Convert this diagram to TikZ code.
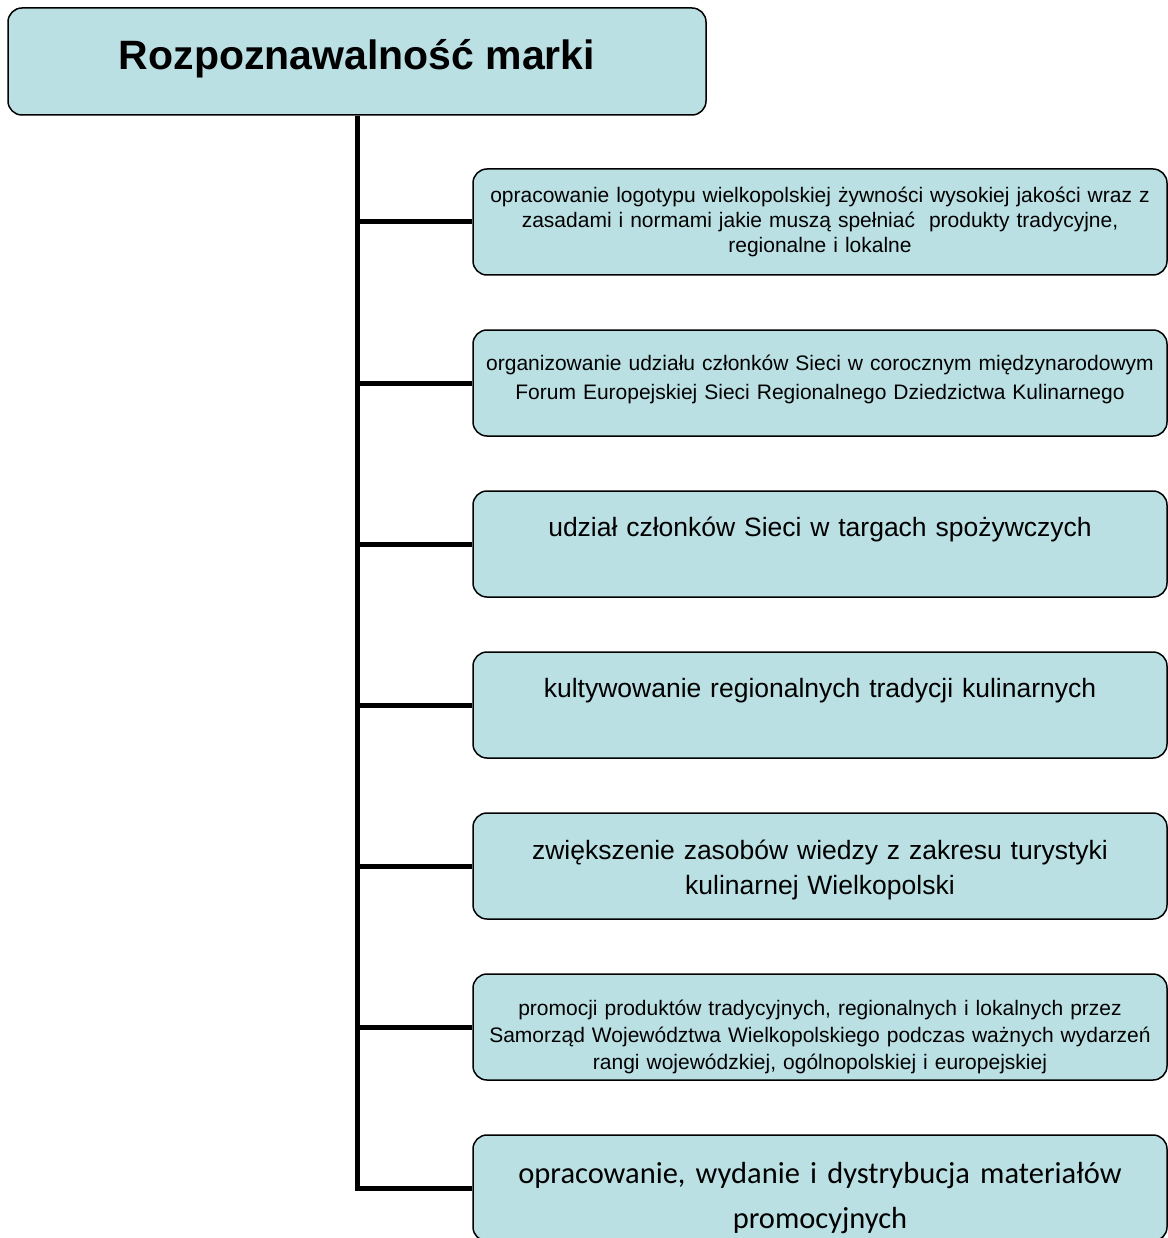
\documentclass[tikz,border=0pt]{standalone}
\usepackage{fontspec}
\setmainfont{Liberation Sans}
\newfontfamily\calibrifont{Carlito}
\usetikzlibrary{positioning}
\definecolor{boxfill}{RGB}{186,224,228}

\begin{document}
\begin{tikzpicture}[
    x=1pt, y=-1pt,
    % Node styles
    headbox/.style={
        rectangle, rounded corners=14pt, draw=black, line width=1.5pt,
        fill=boxfill, minimum width=698pt, minimum height=107pt,
        font=\fontsize{41}{48}\selectfont\bfseries, text depth=14pt
    },
    itembox/.style={
        rectangle, rounded corners=14pt, draw=black, line width=1.5pt,
        fill=boxfill, minimum width=694pt, minimum height=106pt,
        text width=684pt, inner sep=2pt, align=center
    },
    smalltext/.style={font=\fontsize{21}{#1}\selectfont},
    smalltext/.default=27pt,
    largetext/.style={font=\fontsize{26.5}{35}\selectfont},
    calibritext/.style={font=\calibrifont\fontsize{30.5}{45}\selectfont},
    trunk/.style={line width=5pt, black},
    node distance=53.5pt
]

\useasboundingbox (0,0) rectangle (1167,1238);

% ============================================================
% Header and the seven activities
% ============================================================

\node[headbox] (brand) at (357,61.5) {Rozpoznawalność marki};

\node[itembox, smalltext=25pt] (logo) at (820,222)
    {opracowanie logotypu wielkopolskiej żywności wysokiej jakości wraz z\\
     zasadami i normami jakie muszą spełniać\ \ produkty tradycyjne,\\
     regionalne i lokalne};

\node[itembox, smalltext=29pt, text depth=40pt, below=of logo] (forum)
    {organizowanie udziału członków Sieci w corocznym międzynarodowym\\
     Forum Europejskiej Sieci Regionalnego Dziedzictwa Kulinarnego};

\node[itembox, largetext, below=of forum] (fairs)
    {udział członków Sieci w targach spożywczych\\\mbox{}};

\node[itembox, largetext, below=of fairs] (tradition)
    {kultywowanie regionalnych tradycji kulinarnych\\\mbox{}};

\node[itembox, largetext, text height=27pt, below=of tradition] (knowledge)
    {zwiększenie zasobów wiedzy z zakresu turystyki\\
     kulinarnej Wielkopolski};

\node[itembox, smalltext, text height=36pt, below=of knowledge] (promo)
    {promocji produktów tradycyjnych, regionalnych i lokalnych przez\\
     Samorząd Województwa Wielkopolskiego podczas ważnych wydarzeń\\
     rangi wojewódzkiej, ogólnopolskiej i europejskiej};

\node[itembox, calibritext, text height=42pt, below=of promo] (materials)
    {opracowanie, wydanie i dystrybucja materiałów\\
     promocyjnych};

% ============================================================
% Connectors
% ============================================================

\draw[trunk] (brand.south) |- (materials.west);
\foreach \item in {logo, forum, fairs, tradition, knowledge, promo}
    \draw[trunk] (brand.south |- \item.west) -- (\item.west);

\end{tikzpicture}
\end{document}
